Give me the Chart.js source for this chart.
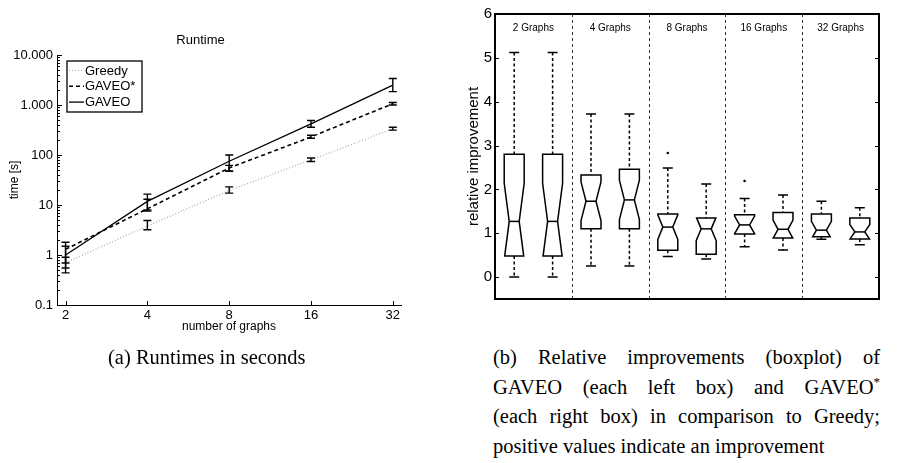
<!DOCTYPE html>
<html lang="en">
<head>
  <meta charset="UTF-8">
  <title>Runtime and relative improvement</title>
  <script src="https://cdn.jsdelivr.net/npm/chart.js"></script>
  <style>
    body {
      margin: 0;
      background: #fff;
      width: 900px;
      height: 463px;
      position: relative;
      overflow: hidden;
    }
    #runtimeBox {
      position: absolute;
      left: 0;
      top: 0;
      width: 420px;
      height: 345px;
    }
    #boxplotBox {
      position: absolute;
      left: 440px;
      top: 0;
      width: 460px;
      height: 320px;
    }
    .caption {
      position: absolute;
      font-family: 'Liberation Serif', 'Times New Roman', serif;
      font-size: 20.5px;
      line-height: 29.7px;
      color: #000;
      white-space: nowrap;
    }
    #capA { left: 108px; top: 343px; }
    #capB { left: 493px; top: 343px; width: 387px; }
    #capB .j { text-align: justify; text-align-last: justify; }
  </style>
</head>
<body>
  <div id="runtimeBox"><canvas id="runtimeChart"></canvas></div>
  <div id="boxplotBox"><canvas id="boxChart"></canvas></div>

  <div class="caption" id="capA">(a) Runtimes in seconds</div>
  <div class="caption" id="capB">
    <div class="j">(b) Relative improvements (boxplot) of</div>
    <div class="j">GAVEO (each left box) and GAVEO<sup style="font-size:13px;line-height:0">*</sup></div>
    <div class="j">(each right box) in comparison to Greedy;</div>
    <div>positive values indicate an improvement</div>
  </div>

  <script>
    // (a) runtime data
    const graphCounts = [2, 4, 8, 16, 32];
    const greedyTime = [0.7, 3.8, 19.5, 80, 335];
    const greedyLow = [0.55, 3.2, 17.3, 74, 315];
    const greedyHigh = [0.9, 4.9, 23, 87, 360];
    const gaveoStarTime = [1.3, 8.4, 55, 230, 1060];
    const gaveoStarLow = [0.69, 7.6, 47, 216, 1000];
    const gaveoStarHigh = [1.5, 13, 62, 248, 1120];
    const gaveoTime = [1.0, 11.8, 75, 420, 2500];
    const gaveoLow = [0.44, 8.0, 48, 360, 1850];
    const gaveoHigh = [1.8, 16.5, 100, 490, 3400];
    const timeTickValues = [0.1, 1, 10, 100, 1000, 10000];
    const timeTickLabels = ['0.1', '1', '10', '100', '1.000', '10.000'];

    // (b) boxplot data, one entry per box (left = GAVEO, right = GAVEO*)
    const groupLabels = ['2 Graphs', '4 Graphs', '8 Graphs', '16 Graphs', '32 Graphs'];
    const whiskerHigh = [5.12, 5.12, 3.72, 3.72, 2.49, 2.12, 1.79, 1.87, 1.73, 1.58];
    const quart3 = [2.80, 2.80, 2.33, 2.46, 1.44, 1.35, 1.42, 1.47, 1.44, 1.35];
    const medians = [1.27, 1.27, 1.73, 1.76, 1.14, 1.10, 1.19, 1.09, 1.07, 1.03];
    const quart1 = [0.48, 0.48, 1.10, 1.10, 0.61, 0.52, 0.98, 0.89, 0.92, 0.87];
    const whiskerLow = [0.0, 0.0, 0.25, 0.25, 0.47, 0.41, 0.69, 0.62, 0.86, 0.74];
    const notchHalf = [0.87, 0.87, 0.44, 0.45, 0.28, 0.27, 0.20, 0.21, 0.20, 0.17];
    const outlierX = [5, 7];
    const outlierY = [2.83, 2.19];
    const improvementTicks = [0, 1, 2, 3, 4, 5, 6];

    Chart.defaults.font.family = "'Liberation Sans', Arial, Helvetica, sans-serif";
    Chart.defaults.color = '#000';

    const toPoints = (xs, ys) => xs.map((x, i) => ({ x: x, y: ys[i] }));

    // error bars for the runtime lines
    const errorBars = {
      id: 'errorBars',
      afterDatasetsDraw(chart) {
        const ctx = chart.ctx;
        const xs = chart.scales.x, ys = chart.scales.y;
        ctx.save();
        ctx.strokeStyle = '#000';
        ctx.lineWidth = 1.4;
        chart.data.datasets.forEach(ds => {
          ds.data.forEach((p, i) => {
            const x = xs.getPixelForValue(p.x);
            const y1 = ys.getPixelForValue(ds.errLow[i]);
            const y2 = ys.getPixelForValue(ds.errHigh[i]);
            ctx.beginPath();
            ctx.moveTo(x, y1); ctx.lineTo(x, y2);
            ctx.moveTo(x - 4, y1); ctx.lineTo(x + 4, y1);
            ctx.moveTo(x - 4, y2); ctx.lineTo(x + 4, y2);
            ctx.stroke();
          });
        });
        ctx.restore();
      }
    };

    // ticks pointing into the plot, matlab style
    const innerTicksLog = {
      id: 'innerTicksLog',
      afterDraw(chart) {
        const ctx = chart.ctx;
        const area = chart.chartArea;
        const xs = chart.scales.x, ys = chart.scales.y;
        ctx.save();
        ctx.strokeStyle = '#000';
        ctx.lineWidth = 1;
        ctx.beginPath();
        ys.ticks.forEach(t => {
          const lg = Math.log10(t.value);
          const major = Math.abs(lg - Math.round(lg)) < 1e-6;
          const y = Math.round(ys.getPixelForValue(t.value)) + 0.5;
          ctx.moveTo(area.left, y);
          ctx.lineTo(area.left + (major ? 5 : 3), y);
        });
        xs.ticks.forEach(t => {
          const x = Math.round(xs.getPixelForValue(t.value)) + 0.5;
          ctx.moveTo(x, area.bottom);
          ctx.lineTo(x, area.bottom - 4);
        });
        ctx.stroke();
        ctx.restore();
      }
    };

    // legend box inside the plot
    const insideLegend = {
      id: 'insideLegend',
      afterDraw(chart) {
        const ctx = chart.ctx;
        const area = chart.chartArea;
        const left = area.left + 10, top = area.top + 6;
        const w = 75, h = 51;
        ctx.save();
        ctx.fillStyle = '#fff';
        ctx.fillRect(left, top, w, h);
        ctx.strokeStyle = '#000';
        ctx.lineWidth = 1.3;
        ctx.strokeRect(left, top, w, h);
        ctx.font = "13px 'Liberation Sans', Arial, sans-serif";
        ctx.textBaseline = 'middle';
        chart.data.datasets.forEach((ds, i) => {
          const y = top + 9.5 + i * 15.8;
          ctx.beginPath();
          ctx.setLineDash(ds.borderDash || []);
          ctx.strokeStyle = ds.borderColor;
          ctx.lineWidth = ds.borderWidth;
          ctx.moveTo(left + 2, y);
          ctx.lineTo(left + 17, y);
          ctx.stroke();
          ctx.setLineDash([]);
          ctx.fillStyle = '#000';
          ctx.fillText(ds.label, left + 18, y + 0.5);
        });
        ctx.restore();
      }
    };

    new Chart(document.getElementById('runtimeChart'), {
      type: 'line',
      data: {
        datasets: [
          {
            label: 'Greedy',
            data: toPoints(graphCounts, greedyTime),
            errLow: greedyLow, errHigh: greedyHigh,
            borderColor: '#aaaaaa', borderWidth: 1.2, borderDash: [1, 2]
          },
          {
            label: 'GAVEO*',
            data: toPoints(graphCounts, gaveoStarTime),
            errLow: gaveoStarLow, errHigh: gaveoStarHigh,
            borderColor: '#000', borderWidth: 1.6, borderDash: [4, 3]
          },
          {
            label: 'GAVEO',
            data: toPoints(graphCounts, gaveoTime),
            errLow: gaveoLow, errHigh: gaveoHigh,
            borderColor: '#000', borderWidth: 1.3
          }
        ]
      },
      options: {
        responsive: true,
        maintainAspectRatio: false,
        animation: false,
        elements: { point: { radius: 0 }, line: { tension: 0 } },
        layout: { padding: { top: 0, right: 19, bottom: 0, left: 0 } },
        plugins: {
          legend: { display: false },
          tooltip: { enabled: false },
          title: {
            display: true,
            text: 'Runtime',
            font: { size: 13, weight: 'normal' },
            padding: { top: 32.7, bottom: 6.7 }
          }
        },
        scales: {
          x: {
            type: 'logarithmic',
            min: 1.86,
            max: 34.3,
            bounds: 'data',
            grid: { display: false, drawTicks: false },
            border: { display: true, color: '#000', width: 1 },
            ticks: {
              autoSkip: false,
              maxRotation: 0,
              padding: 3,
              font: { size: 13 },
              callback: v => String(v)
            },
            afterBuildTicks: s => { s.ticks = graphCounts.map(v => ({ value: v })); },
            afterFit: s => { s.height = 40; },
            title: {
              display: true,
              text: 'number of graphs',
              font: { size: 12 },
              padding: { top: 0, bottom: 10.8 }
            }
          },
          y: {
            type: 'logarithmic',
            min: 0.1,
            max: 10000,
            bounds: 'data',
            grid: { display: false, drawTicks: false },
            border: { display: true, color: '#000', width: 1 },
            ticks: {
              autoSkip: false,
              padding: 4,
              font: { size: 13 },
              callback: v => {
                const k = timeTickValues.findIndex(t => Math.abs(t - v) / t < 1e-6);
                return k >= 0 ? timeTickLabels[k] : '';
              }
            },
            afterBuildTicks: s => {
              const ticks = [];
              for (let d = 0; d < timeTickValues.length - 1; d++) {
                for (let k = 1; k <= 9; k++) ticks.push({ value: timeTickValues[d] * k, major: k === 1 });
              }
              ticks.push({ value: timeTickValues[timeTickValues.length - 1], major: true });
              s.ticks = ticks;
            },
            afterFit: s => { s.width = 57; },
            title: {
              display: true,
              text: 'time [s]',
              font: { size: 12 },
              padding: { top: 7.8, bottom: 0 }
            }
          }
        }
      },
      plugins: [errorBars, innerTicksLog, insideLegend]
    });

    // boxes, whiskers, separators and frame
    const boxPlot = {
      id: 'boxPlot',
      beforeDatasetsDraw(chart) {
        const ctx = chart.ctx;
        const area = chart.chartArea;
        const xs = chart.scales.x;
        ctx.save();
        ctx.strokeStyle = '#333';
        ctx.lineWidth = 1;
        ctx.setLineDash([3, 3]);
        for (let g = 1; g < groupLabels.length; g++) {
          const x = Math.round(xs.getPixelForValue(g * 2 + 0.5)) + 0.5;
          ctx.beginPath();
          ctx.moveTo(x, area.top);
          ctx.lineTo(x, area.bottom);
          ctx.stroke();
        }
        ctx.setLineDash([]);
        ctx.fillStyle = '#000';
        ctx.font = "10px 'Liberation Sans', Arial, sans-serif";
        ctx.textAlign = 'center';
        ctx.textBaseline = 'middle';
        groupLabels.forEach((lab, g) => {
          ctx.fillText(lab, xs.getPixelForValue(g * 2 + 1.5), area.top + 14);
        });
        ctx.restore();
      },
      afterDatasetsDraw(chart) {
        const ctx = chart.ctx;
        const xs = chart.scales.x, ys = chart.scales.y;
        ctx.save();
        ctx.strokeStyle = '#000';
        medians.forEach((med, i) => {
          const x = xs.getPixelForValue(i + 1);
          const hw = xs.getPixelForValue(i + 1.26) - x;
          const inner = hw * 0.5;
          const nh = notchHalf[i];
          const widthAt = v => {
            const d = Math.abs(v - med);
            return d >= nh ? hw : inner + (hw - inner) * d / nh;
          };
          const py = v => ys.getPixelForValue(v);

          // whiskers
          ctx.lineWidth = 1.5;
          ctx.setLineDash([3, 2.5]);
          ctx.beginPath();
          ctx.moveTo(x, py(whiskerHigh[i])); ctx.lineTo(x, py(quart3[i]));
          ctx.moveTo(x, py(quart1[i])); ctx.lineTo(x, py(whiskerLow[i]));
          ctx.stroke();
          ctx.setLineDash([]);
          ctx.beginPath();
          ctx.moveTo(x - 5, py(whiskerHigh[i])); ctx.lineTo(x + 5, py(whiskerHigh[i]));
          ctx.moveTo(x - 5, py(whiskerLow[i])); ctx.lineTo(x + 5, py(whiskerLow[i]));
          ctx.stroke();

          // notched box
          const pts = [[quart3[i], widthAt(quart3[i])]];
          if (med + nh < quart3[i]) pts.push([med + nh, hw]);
          pts.push([med, inner]);
          if (med - nh > quart1[i]) pts.push([med - nh, hw]);
          pts.push([quart1[i], widthAt(quart1[i])]);
          ctx.lineWidth = 1.5;
          ctx.lineJoin = 'miter';
          ctx.beginPath();
          pts.forEach((p, k) => {
            if (k === 0) ctx.moveTo(x - p[1], py(p[0]));
            else ctx.lineTo(x - p[1], py(p[0]));
          });
          for (let k = pts.length - 1; k >= 0; k--) ctx.lineTo(x + pts[k][1], py(pts[k][0]));
          ctx.closePath();
          ctx.stroke();
          ctx.beginPath();
          ctx.moveTo(x - inner, py(med)); ctx.lineTo(x + inner, py(med));
          ctx.stroke();
        });
        ctx.restore();
      },
      afterDraw(chart) {
        const ctx = chart.ctx;
        const area = chart.chartArea;
        const ys = chart.scales.y;
        ctx.save();
        ctx.strokeStyle = '#000';
        ctx.lineWidth = 1;
        ctx.beginPath();
        ys.ticks.forEach(t => {
          const y = Math.round(ys.getPixelForValue(t.value)) + 0.5;
          ctx.moveTo(area.left, y); ctx.lineTo(area.left + 4, y);
          ctx.moveTo(area.right, y); ctx.lineTo(area.right - 4, y);
        });
        ctx.stroke();
        ctx.lineWidth = 2;
        ctx.strokeRect(area.left, area.top, area.right - area.left, area.bottom - area.top);
        ctx.restore();
      }
    };

    new Chart(document.getElementById('boxChart'), {
      type: 'scatter',
      data: {
        datasets: [{
          label: 'outliers',
          data: toPoints(outlierX, outlierY),
          pointRadius: 1.3,
          pointBackgroundColor: '#000',
          pointBorderWidth: 0
        }]
      },
      options: {
        responsive: true,
        maintainAspectRatio: false,
        animation: false,
        layout: { padding: { top: 14, right: 21, bottom: 21, left: 0 } },
        plugins: {
          legend: { display: false },
          tooltip: { enabled: false }
        },
        scales: {
          x: {
            type: 'linear',
            min: 0.5,
            max: 10.5,
            display: false
          },
          y: {
            type: 'linear',
            min: -0.5,
            max: 6,
            bounds: 'data',
            grid: { display: false, drawTicks: false },
            border: { display: false },
            ticks: {
              autoSkip: false,
              padding: 3,
              font: { size: 15 },
              callback: v => String(v)
            },
            afterBuildTicks: s => { s.ticks = improvementTicks.map(v => ({ value: v })); },
            afterFit: s => { s.width = 55; },
            title: {
              display: true,
              text: 'relative improvement',
              font: { size: 15 },
              padding: { top: 25, bottom: 0 }
            }
          }
        }
      },
      plugins: [boxPlot]
    });
  </script>
</body>
</html>
